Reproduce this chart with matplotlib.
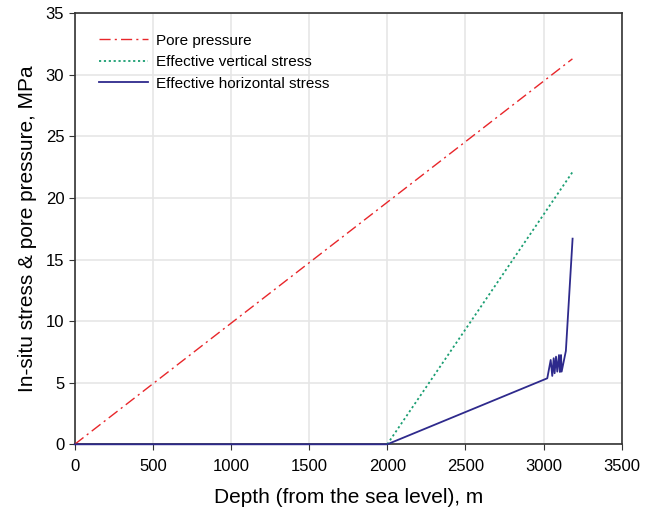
import numpy as np
import matplotlib.pyplot as plt

plt.rcParams['font.family'] = ['Liberation Sans', 'DejaVu Sans']

# pore pressure
pore_depth = [0, 3185]
pore_p = [0, 31.3]

# effective vertical stress
vert_depth = [2000, 3185]
vert_s = [0, 22.1]

# effective horizontal stress
hor_depth = [0, 2000, 3024, 3046, 3056, 3065, 3071, 3080, 3088, 3099, 3105, 3112, 3116, 3143, 3186]
hor_s = [0, 0, 5.36, 6.85, 5.55, 6.99, 5.77, 7.12, 5.9, 7.25, 5.87, 7.25, 5.9, 7.58, 16.7]

fig = plt.figure(figsize=(6.53, 5.09), dpi=100)
ax = fig.add_axes([0.1144, 0.1271, 0.8376, 0.8468])

ax.plot(pore_depth, pore_p, color='#e8262a', lw=1.0, dashes=(8, 3, 1.5, 3), label='Pore pressure', zorder=4)
ax.plot(vert_depth, vert_s, color='#1a9e72', lw=1.3, linestyle=(0, (1.2, 1.5)), label='Effective vertical stress', zorder=4)
ax.plot(hor_depth, hor_s, color='#2e2a8c', lw=1.3, label='Effective horizontal stress', clip_on=False, zorder=5)

ax.set_xlim(0, 3500)
ax.set_ylim(0, 35)
ax.set_xticks(np.arange(0, 3501, 500))
ax.set_yticks(np.arange(0, 36, 5))
ax.grid(color='#e6e6e6', lw=1.2)
ax.set_axisbelow(True)
ax.tick_params(labelsize=12, direction='out', length=4, color='#333333')
ax.tick_params(axis='x', pad=6.5)
for s in ax.spines.values():
    s.set_color('#333333')
    s.set_linewidth(1.2)
    s.set_zorder(3)

ax.set_xlabel('Depth (from the sea level), m', fontsize=15, labelpad=10)
ax.set_ylabel('In-situ stress & pore pressure, MPa', fontsize=15, labelpad=6)

ax.legend(loc='upper left', bbox_to_anchor=(0.02, 0.985), frameon=False, fontsize=11,
          handlelength=3.2, labelspacing=0.5, handletextpad=0.5)

fig.savefig('out.png', dpi=100)
